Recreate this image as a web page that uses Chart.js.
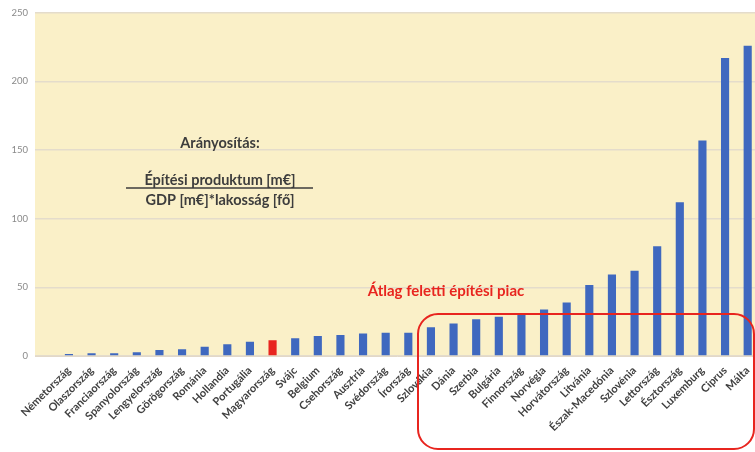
<!DOCTYPE html>
<html>
<head>
<meta charset="utf-8">
<script src="https://cdn.jsdelivr.net/npm/chart.js@4/dist/chart.umd.min.js"></script>
<style>
  html, body { margin: 0; padding: 0; background: #fff; overflow: hidden; }
  #wrap { width: 762px; height: 452px; }
</style>
</head>
<body>
<div id="wrap"><canvas id="myChart"></canvas></div>
<script>
let countries = ['Németország', 'Olaszország', 'Franciaország', 'Spanyolország', 'Lengyelország',
    'Görögország', 'Románia', 'Hollandia', 'Portugália', 'Magyarország', 'Svájc', 'Belgium',
    'Csehország', 'Ausztria', 'Svédország', 'Írország', 'Szlovákia', 'Dánia', 'Szerbia',
    'Bulgária', 'Finnország', 'Norvégia', 'Horvátország', 'Litvánia', 'Észak-Macedónia',
    'Szlovénia', 'Lettország', 'Észtország', 'Luxemburg', 'Ciprus', 'Málta'];
let values = [1.5, 2, 2, 2.7, 4.4, 4.9, 6.8, 8.5, 10.4, 11.5, 13, 14.5, 15.3, 16.3, 16.9, 16.9,
    21, 23.7, 26.8, 28.5, 30.2, 33.8, 38.9, 51.7, 59.4, 62, 80, 112, 157, 217, 226];
let highlight = 'Magyarország';
let yTicks = [0, 50, 100, 150, 200, 250];

let blue = '#3F68BF';
let red = '#E8251F';
let colors = countries.map(c => c === highlight ? red : blue);

// plot area background
let plotBg = {
    id: 'plotBg',
    beforeDraw(chart) {
        let a = chart.chartArea, ctx = chart.ctx;
        ctx.save();
        ctx.fillStyle = '#FAF0C8';
        ctx.fillRect(a.left, a.top, a.right - a.left, a.bottom - a.top);
        ctx.restore();
    }
};

// text notes and the red frame
let notes = {
    id: 'notes',
    afterDraw(chart) {
        let ctx = chart.ctx;
        ctx.save();
        ctx.textAlign = 'center';
        ctx.textBaseline = 'middle';
        ctx.fillStyle = '#3d3d3d';
        ctx.font = 'bold 14.5px Lato, "Open Sans", sans-serif';
        ctx.fillText('Arányosítás:', 220, 143);
        ctx.fillText('Építési produktum [m€]', 220, 180);
        ctx.fillText('GDP [m€]*lakosság [fő]', 220, 200);
        ctx.strokeStyle = '#3d3d3d';
        ctx.lineWidth = 1.5;
        ctx.beginPath();
        ctx.moveTo(126, 188);
        ctx.lineTo(313, 188);
        ctx.stroke();

        ctx.fillStyle = red;
        ctx.font = 'bold 15px Lato, "Open Sans", sans-serif';
        ctx.fillText('Átlag feletti építési piac', 446, 291);

        ctx.strokeStyle = red;
        ctx.lineWidth = 2;
        ctx.beginPath();
        ctx.roundRect(418, 314, 336, 135, 20);
        ctx.stroke();
        ctx.restore();
    }
};

let myChart = document.getElementById('myChart').getContext('2d');

let chart = new Chart(myChart, {
    type: 'bar',
    data: {
        labels: [''].concat(countries),
        datasets: [{
            data: [null].concat(values),
            backgroundColor: [blue].concat(colors),
            barPercentage: 0.36,
            categoryPercentage: 1
        }]
    },
    options: {
        responsive: true,
        maintainAspectRatio: false,
        animation: false,
        layout: { padding: { top: 5, right: 3, left: 0, bottom: 0 } },
        plugins: {
            legend: { display: false },
            tooltip: { enabled: false }
        },
        scales: {
            x: {
                grid: { display: false },
                border: { color: '#e2d8c8' },
                ticks: {
                    minRotation: 45,
                    maxRotation: 45,
                    autoSkip: false,
                    color: '#404040',
                    padding: 0,
                    font: { family: 'Lato', size: 11, weight: 'bold' }
                },
                afterFit(scale) { scale.height = 96; }
            },
            y: {
                min: 0,
                max: 250,
                afterBuildTicks(scale) { scale.ticks = yTicks.map(v => ({ value: v })); },
                grid: { color: '#E4DCCB', lineWidth: 1.5, drawTicks: false },
                border: { display: false },
                ticks: {
                    color: '#8a8a8a',
                    padding: 7,
                    font: { family: 'Lato', size: 9.5 }
                },
                afterFit(scale) { scale.width = 35; }
            }
        }
    },
    plugins: [plotBg, notes]
});
</script>
</body>
</html>
